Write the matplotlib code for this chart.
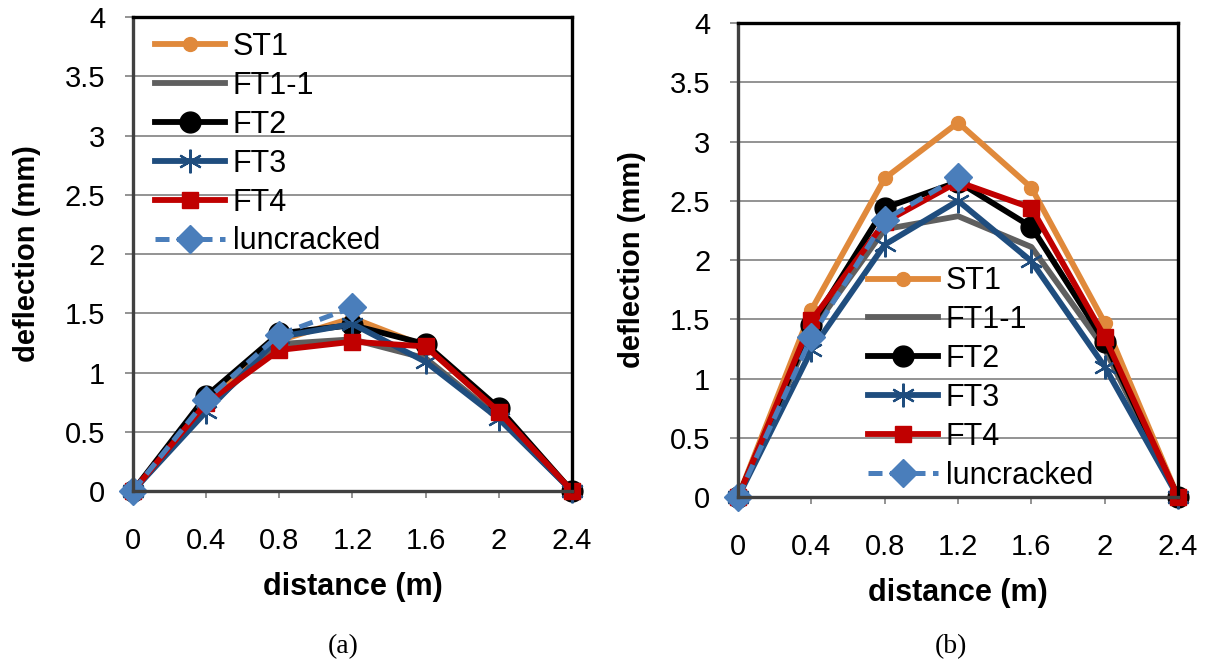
import numpy as np
import matplotlib.pyplot as plt

plt.rcParams['font.family'] = ['Liberation Sans', 'DejaVu Sans']

# distance along the beam (m), used as categories
dist_labels = ["0", "0.4", "0.8", "1.2", "1.6", "2", "2.4"]

# (a)
st1_a = [0, 0.75, 1.27, 1.46, 1.22, 0.68, 0]
ft11_a = [0, 0.70, 1.24, 1.28, 1.12, 0.62, 0]
ft2_a = [0, 0.80, 1.33, 1.40, 1.24, 0.70, 0]
ft3_a = [0, 0.67, 1.30, 1.41, 1.09, 0.61, 0]
ft4_a = [0, 0.74, 1.19, 1.26, 1.22, 0.67, 0]
unc_a = [0, 0.77, 1.32, 1.55]

# (b)
st1_b = [0, 1.58, 2.69, 3.16, 2.61, 1.47, 0]
ft11_b = [0, 1.40, 2.26, 2.37, 2.11, 1.25, 0]
ft2_b = [0, 1.45, 2.44, 2.66, 2.28, 1.31, 0]
ft3_b = [0, 1.24, 2.13, 2.50, 1.99, 1.10, 0]
ft4_b = [0, 1.49, 2.32, 2.66, 2.44, 1.35, 0]
unc_b = [0, 1.35, 2.34, 2.70]

names = ["ST1", "FT1-1", "FT2", "FT3", "FT4", "luncracked"]
styles = [
    dict(color="#E0893B", marker="o", ms=10, lw=4.2),
    dict(color="#5F5F5F", marker=None, lw=4.2),
    dict(color="black", marker="o", ms=15, lw=4.2),
    dict(color="#1F4D7E", marker=(6, 2, 0), ms=17, mew=1.6, lw=4.2),
    dict(color="#C00000", marker="s", ms=12, lw=4.2),
    dict(color="#4A7EBB", marker="D", ms=14, lw=3.6, ls=(0, (2.8, 1.5))),
]


def draw(ax, series, legend_anchor):
    x = np.arange(len(dist_labels))
    for name, vals, st in zip(names, series, styles):
        ax.plot(x[:len(vals)], vals, label=name, clip_on=False, **st)
    ax.set_xlim(0, len(dist_labels) - 1)
    ax.set_ylim(0, 4)
    ax.set_yticks(np.arange(0, 4.01, 0.5))
    ax.set_yticklabels(["0", "0.5", "1", "1.5", "2", "2.5", "3", "3.5", "4"])
    ax.set_xticks(x)
    ax.set_xticklabels(dist_labels)
    ax.grid(axis="y", color="#8A8A8A", lw=1.3)
    ax.set_axisbelow(True)
    ax.tick_params(axis="y", labelsize=21, length=6, width=1.3, color="#8A8A8A", pad=14)
    ax.tick_params(axis="x", labelsize=21, length=5, width=1.3, color="#8A8A8A", pad=21)
    for s in ["top", "right"]:
        ax.spines[s].set_color("black")
        ax.spines[s].set_linewidth(2.4)
    for s in ["left", "bottom"]:
        ax.spines[s].set_color("#404040")
        ax.spines[s].set_linewidth(2.4)
    ax.set_xlabel("distance (m)", fontsize=22, fontweight="bold")
    ax.set_ylabel("deflection (mm)", fontsize=21, fontweight="bold")
    ax.xaxis.set_label_coords(0.5, -0.17)
    ax.yaxis.set_label_coords(-0.21, 0.5)
    ax.legend(loc="upper left", bbox_to_anchor=legend_anchor, frameon=False,
              fontsize=22, handlelength=2.3, handletextpad=0.25,
              labelspacing=0.29, borderpad=0, borderaxespad=0)


fig = plt.figure(figsize=(12.12, 6.62), dpi=100)
ax1 = fig.add_axes([0.1097, 0.2583, 0.3622, 0.716])
ax2 = fig.add_axes([0.609, 0.2492, 0.363, 0.716])

draw(ax1, [st1_a, ft11_a, ft2_a, ft3_a, ft4_a, unc_a], (0.05, 0.968))
draw(ax2, [st1_b, ft11_b, ft2_b, ft3_b, ft4_b, unc_b], (0.295, 0.487))

fig.text(0.283, 0.014, "(a)", fontsize=20, family="Liberation Serif", ha="center")
fig.text(0.785, 0.014, "(b)", fontsize=20, family="Liberation Serif", ha="center")

fig.savefig("out.png", dpi=100)
